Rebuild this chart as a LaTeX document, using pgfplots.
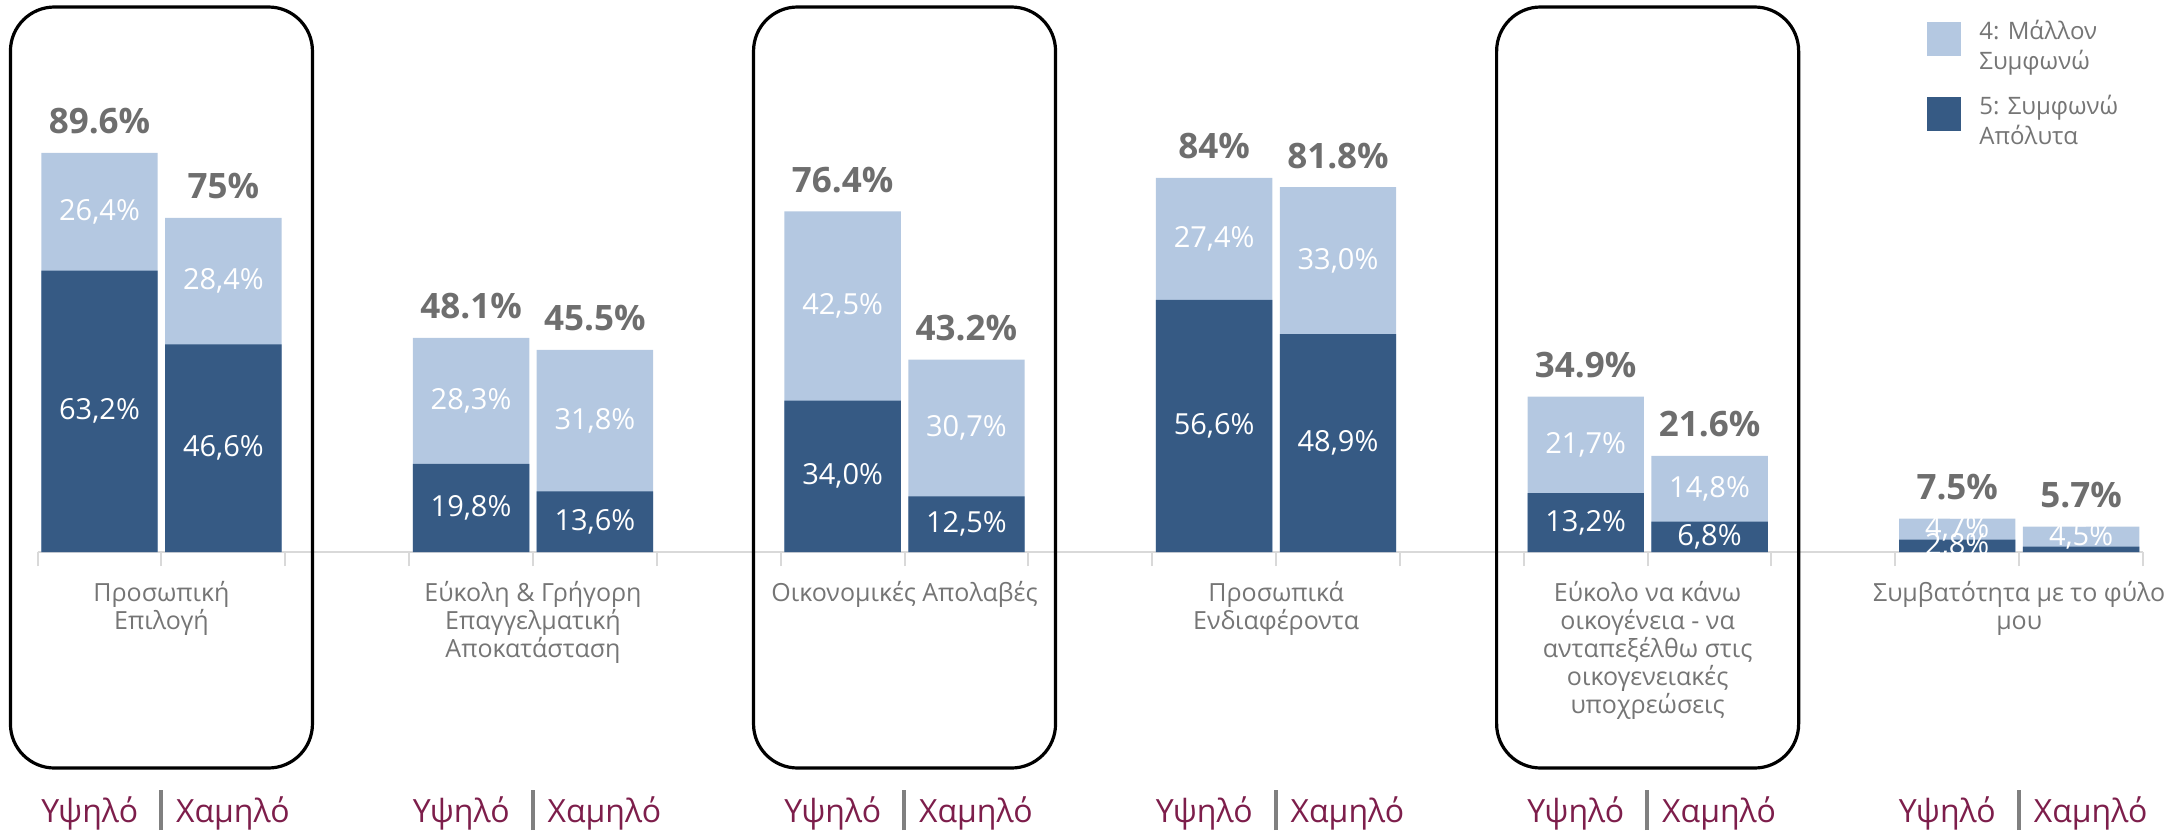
\documentclass[border=0pt]{standalone}
\usepackage{fontspec}
\setmainfont{Open Sans}
\usepackage{pgfplots}
\usepackage{pgfplotstable}
\pgfplotsset{compat=1.18}
\definecolor{dkb}{HTML}{365A84}
\definecolor{ltb}{HTML}{B4C8E1}
\definecolor{totg}{HTML}{6E6E6E}
\definecolor{catg}{HTML}{757575}
\definecolor{mar}{HTML}{7D1E4B}
\definecolor{axg}{HTML}{D9D9D9}
\definecolor{sepg}{HTML}{808080}
\newcommand\HL{Υψηλό\hspace{10.5pt}\textcolor{sepg}{\rule[-4pt]{2pt}{20pt}}\hspace{6.5pt}Χαμηλό}

\pgfplotstableread{
x dark light total
0 63.2 26.4 89.6
1 46.6 28.4 75
3 19.8 28.3 48.1
4 13.6 31.8 45.5
6 34.0 42.5 76.4
7 12.5 30.7 43.2
9 56.6 27.4 84
10 48.9 33.0 81.8
12 13.2 21.7 34.9
13 6.8 14.8 21.6
15 2.8 4.7 7.5
16 1.2 4.5 5.7
}\data

\begin{document}
\begin{tikzpicture}[x=1pt,y=1pt]
\useasboundingbox (-18.8,-140) rectangle (1072.2,276);
\begin{axis}[
  at={(0,0)}, anchor=south west, scale only axis,
  width=1052.7pt, height=265pt,
  xmin=-0.5, xmax=16.5, ymin=0, ymax=119,
  clip marker paths=true,
  /pgf/number format/assume math mode=true,
  axis x line*=bottom, axis y line=none,
  x axis line style={draw=axg, line width=1pt, -},
  ytick=\empty,
  xtick={-0.5,0.5,1.5,2.5,3.5,4.5,5.5,6.5,7.5,8.5,9.5,10.5,11.5,12.5,13.5,14.5,15.5,16.5},
  xticklabels={{},{Προσωπική\\Επιλογή},{},{},{Εύκολη \& Γρήγορη\\Επαγγελματική\\Αποκατάσταση},{},{},{Οικονομικές Απολαβές},{},{},{Προσωπικά\\Ενδιαφέροντα},{},{},{Εύκολο να κάνω\\οικογένεια - να\\ανταπεξέλθω στις\\οικογενειακές\\υποχρεώσεις},{},{},{Συμβατότητα με το φύλο\\μου},{}},
  tick align=outside, major tick length=7pt,
  xtick style={draw=axg, line width=1pt},
  xticklabel style={font=\fontsize{12.5}{14}\selectfont, text=catg, align=center, anchor=north, yshift=-4pt},
  extra x ticks={0.5,3.5,6.5,9.5,12.5,15.5},
  extra x tick labels={\HL,\HL,\HL,\HL,\HL,\HL},
  extra x tick style={major tick length=0pt, xtick style={draw=none}, xticklabel style={font=\fontsize{16}{18}\selectfont, text=mar, anchor=base, yshift=-131pt, xshift=2pt}},
  legend style={at={(axis description cs:0.8974,1)}, anchor=north west, yshift=4pt, draw=none, fill=none, inner sep=0pt, row sep=16.5pt, font=\fontsize{12}{15}\selectfont, text=catg, legend cell align=left},
  legend image code/.code={\fill[#1] (0pt,-13pt) rectangle (17pt,4pt);},
]
\addlegendimage{fill=ltb, draw=none}
\addlegendentry{\hspace{7pt}\begin{tabular}[t]{@{}l@{}}4: Μάλλον\\Συμφωνώ\end{tabular}}
\addlegendimage{fill=dkb, draw=none}
\addlegendentry{\hspace{7pt}\begin{tabular}[t]{@{}l@{}}5: Συμφωνώ\\Απόλυτα\end{tabular}}

\addplot[ybar, bar width=58.2pt, bar shift=0pt, fill=ltb, draw=none] table[x=x, y expr=\thisrow{dark}+\thisrow{light}] {\data};
\addplot[ybar, bar width=58.2pt, bar shift=0pt, fill=dkb, draw=none] table[x=x, y=dark] {\data};

\addplot[draw=none, mark=none, point meta=explicit, skip coords between index={11}{12},
  nodes near coords={\pgfmathprintnumber[fixed,fixed zerofill,precision=1,use comma]{\pgfplotspointmeta}\%},
  nodes near coords align={anchor=center},
  every node near coord/.append style={text=white, font=\fontsize{14.5}{16}\selectfont}]
  table[x=x, y expr=\thisrow{dark}/2, meta=dark] {\data};
\addplot[draw=none, mark=none, point meta=explicit,
  nodes near coords={\pgfmathprintnumber[fixed,fixed zerofill,precision=1,use comma]{\pgfplotspointmeta}\%},
  nodes near coords align={anchor=center},
  every node near coord/.append style={text=white, font=\fontsize{14.5}{16}\selectfont}]
  table[x=x, y expr=\thisrow{dark}+\thisrow{light}/2, meta=light] {\data};
\addplot[draw=none, mark=none, point meta=explicit,
  nodes near coords={\pgfmathprintnumber[fixed,precision=1]{\pgfplotspointmeta}\%},
  nodes near coords align={anchor=base},
  every node near coord/.append style={text=totg, font=\bfseries\fontsize{17.5}{20}\selectfont, yshift=9.5pt}]
  table[x=x, y=total, meta=total] {\data};
\end{axis}
\foreach \g in {0,2,4} {
  \draw[black, line width=1.6pt, rounded corners=22pt] ({(1+3*\g)*61.924-75.5},-108) rectangle ({(1+3*\g)*61.924+75.5},272.5);
}
\end{tikzpicture}
\end{document}
